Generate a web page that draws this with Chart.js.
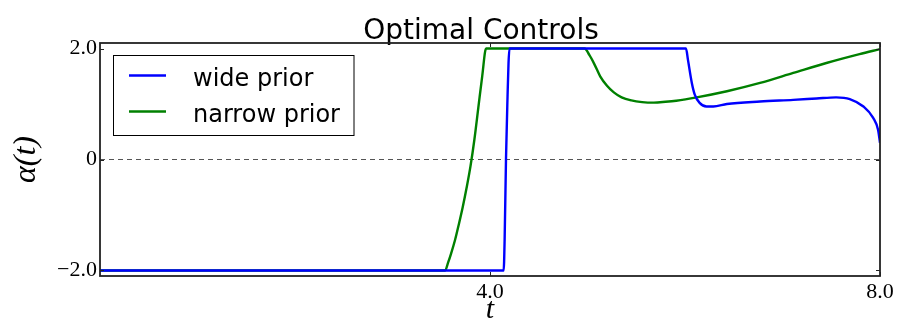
<!DOCTYPE html>
<html>
<head>
<meta charset="utf-8">
<title>Optimal Controls</title>
<script src="https://cdn.jsdelivr.net/npm/chart.js@4.4.1/dist/chart.umd.min.js"></script>
<style>
  html, body { margin: 0; padding: 0; background: #ffffff; }
  #wrap { width: 898px; height: 321px; position: relative; }
</style>
</head>
<body>
<div id="wrap"><canvas id="c" width="898" height="321"></canvas></div>
<script>
// Control trajectories alpha(t) for the two priors
const wideT = [0, 4.14, 4.15, 4.164, 4.18, 4.19, 4.20, 6.01, 6.03, 6.07, 6.10, 6.15, 6.22, 6.29, 6.43, 6.77, 7.11, 7.35, 7.55, 7.69, 7.83, 7.93, 7.98, 8.0];
const wideA = [-2, -2, -1.45, 0, 1.14, 1.74, 2, 2, 1.80, 1.38, 1.17, 1.02, 0.955, 0.955, 1.00, 1.045, 1.075, 1.10, 1.12, 1.09, 0.955, 0.75, 0.535, 0.3];

const narrowT = [0, 3.54, 3.57, 3.60, 3.64, 3.68, 3.72, 3.76, 3.80, 3.84, 3.88, 3.92, 3.96,
                 4.97, 5.02, 5.07, 5.13, 5.20, 5.27, 5.35, 5.45, 5.56, 5.68, 5.80, 5.91, 6.12, 6.43, 6.77, 7.11, 7.45, 7.79, 8.0];
const narrowA = [-2, -2, -1.86, -1.70, -1.46, -1.17, -0.86, -0.51, -0.12, 0.36, 0.93, 1.50, 2.0,
                 2.0, 1.88, 1.72, 1.50, 1.33, 1.21, 1.12, 1.065, 1.035, 1.025, 1.04, 1.06, 1.12, 1.23, 1.38, 1.56, 1.74, 1.90, 1.99];

const seriesNames = ['wide prior', 'narrow prior'];

// Axis ticks
const xTickValues = [4, 8];
const xTickLabels = ['4.0', '8.0'];
const yTickValues = [-2, 0, 2];
const yTickLabels = ['\u22122.0', '0', '2.0'];

const toPoints = (ts, vs) => ts.map((t, i) => ({ x: t, y: vs[i] }));

const SERIF = '"Liberation Serif", "DejaVu Serif", serif';
const SANS = '"DejaVu Sans", sans-serif';

// Title, axes frame, inward tick marks and boxed legend
const decorations = {
  id: 'decorations',
  afterDraw(chart) {
    const { ctx, chartArea: a, scales } = chart;
    const xs = scales.x, ys = scales.y;
    ctx.save();

    // title
    ctx.fillStyle = '#000';
    ctx.font = '28px ' + SANS;
    ctx.textAlign = 'center';
    ctx.textBaseline = 'alphabetic';
    ctx.fillText('Optimal Controls', 481, 39);

    // frame
    ctx.strokeStyle = '#222';
    ctx.lineWidth = 1.8;
    ctx.strokeRect(a.left, a.top, a.right - a.left, a.bottom - a.top);

    // inward ticks
    ctx.lineWidth = 1;
    const tl = 4;
    ctx.beginPath();
    ys.ticks.forEach(t => {
      const p = Math.round(ys.getPixelForValue(t.value)) + 0.5;
      ctx.moveTo(a.left, p); ctx.lineTo(a.left + tl, p);
      ctx.moveTo(a.right, p); ctx.lineTo(a.right - tl, p);
    });
    xs.ticks.forEach(t => {
      const p = Math.round(xs.getPixelForValue(t.value)) + 0.5;
      ctx.moveTo(p, a.bottom); ctx.lineTo(p, a.bottom - tl);
      ctx.moveTo(p, a.top); ctx.lineTo(p, a.top + tl);
    });
    ctx.stroke();

    // legend
    const box = { x: 113.5, y: 55.5, w: 240.5, h: 80 };
    ctx.fillStyle = '#fff';
    ctx.fillRect(box.x, box.y, box.w, box.h);
    ctx.strokeStyle = '#000';
    ctx.lineWidth = 1;
    ctx.strokeRect(box.x, box.y, box.w, box.h);
    const rowsY = [75.5, 111.5];
    ctx.font = '24px ' + SANS;
    ctx.textAlign = 'left';
    ctx.textBaseline = 'alphabetic';
    chart.data.datasets.forEach((ds, i) => {
      ctx.strokeStyle = ds.borderColor;
      ctx.lineWidth = 2.5;
      ctx.beginPath();
      ctx.moveTo(129, rowsY[i]);
      ctx.lineTo(166, rowsY[i]);
      ctx.stroke();
      ctx.fillStyle = '#000';
      ctx.fillText(ds.label, 193, rowsY[i] + 10);
    });
    ctx.restore();
  }
};

new Chart(document.getElementById('c'), {
  type: 'line',
  data: {
    datasets: [
      {
        label: seriesNames[0],
        data: toPoints(wideT, wideA),
        borderColor: '#0000ff',
        borderWidth: 2.4,
        pointRadius: 0,
        cubicInterpolationMode: 'monotone',
        fill: false
      },
      {
        label: seriesNames[1],
        data: toPoints(narrowT, narrowA),
        borderColor: '#008000',
        borderWidth: 2.4,
        pointRadius: 0,
        cubicInterpolationMode: 'monotone',
        fill: false
      }
    ]
  },
  options: {
    responsive: false,
    animation: false,
    devicePixelRatio: 1,
    layout: { padding: { top: 43, right: 18, left: 0, bottom: 0 } },
    plugins: {
      legend: { display: false },
      title: { display: false },
      tooltip: { enabled: false }
    },
    scales: {
      x: {
        type: 'linear',
        min: 0,
        max: 8,
        afterBuildTicks: s => { s.ticks = xTickValues.map(v => ({ value: v })); },
        afterFit: s => { s.height = 45; },
        grid: { display: false, drawTicks: false },
        border: { display: false },
        ticks: {
          padding: 3,
          color: '#000',
          font: { family: SERIF, size: 22 },
          maxRotation: 0,
          callback: (v, i) => xTickLabels[i]
        },
        title: {
          display: true,
          text: 't',
          color: '#000',
          font: { family: SERIF, size: 30, style: 'italic', lineHeight: 1 },
          padding: { top: 0, bottom: -4 }
        }
      },
      y: {
        type: 'linear',
        min: -2.1,
        max: 2.1,
        afterBuildTicks: s => { s.ticks = yTickValues.map(v => ({ value: v })); },
        afterFit: s => { s.width = 100; },
        grid: {
          drawTicks: false,
          lineWidth: 1,
          color: c => (c.tick && c.tick.value === 0) ? '#555555' : 'rgba(0,0,0,0)'
        },
        border: { display: false, dash: [5, 4] },
        ticks: {
          padding: 3,
          color: '#000',
          font: { family: SERIF, size: 22 },
          callback: (v, i) => yTickLabels[i]
        },
        title: {
          display: true,
          text: '\u03b1(t)',
          color: '#000',
          font: { family: SERIF, size: 32, style: 'italic', lineHeight: 1 },
          padding: { top: 11, bottom: 0 }
        }
      }
    }
  },
  plugins: [decorations]
});
</script>
</body>
</html>
